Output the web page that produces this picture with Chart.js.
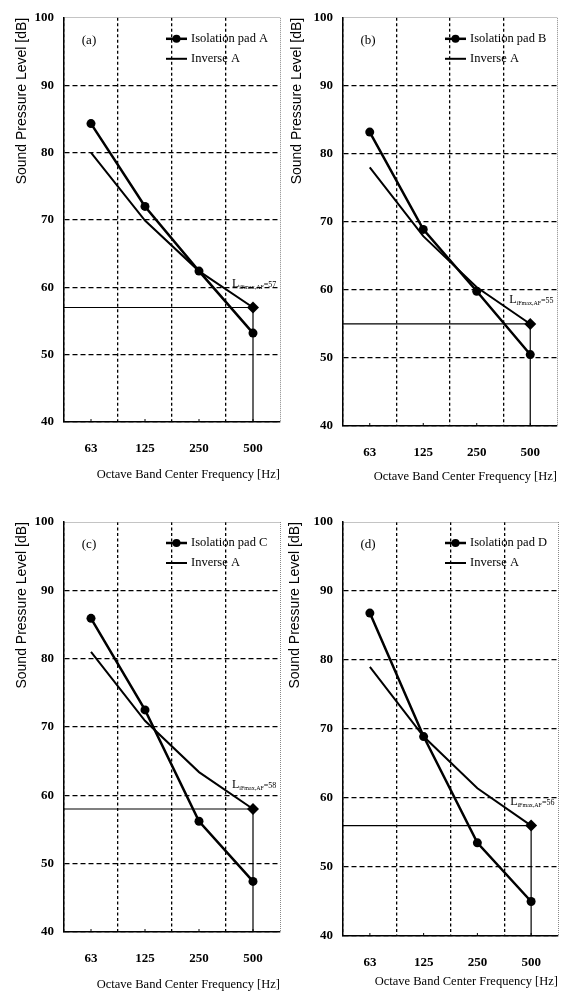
<!DOCTYPE html>
<html lang="en">
<head>
<meta charset="utf-8"/>
<title>Sound Pressure Level - Isolation Pads</title>
<script src="https://cdn.jsdelivr.net/npm/chart.js"></script>
<style>
  body { margin: 0; background: #fff; width: 572px; height: 993px; position: relative; overflow: hidden; }
  .panel { position: absolute; }
</style>
</head>
<body>
<div class="panel" style="left:0;top:0;width:286px;height:496px"><canvas id="chartA"></canvas></div>
<div class="panel" style="left:279px;top:0;width:286px;height:496px"><canvas id="chartB"></canvas></div>
<div class="panel" style="left:0;top:500px;width:286px;height:493px"><canvas id="chartC"></canvas></div>
<div class="panel" style="left:279px;top:500px;width:286px;height:493px"><canvas id="chartD"></canvas></div>
<script>
// octave band centre frequencies
const freqLabels = ['63', '125', '250', '500'];

// measured levels for each isolation pad [dB]
const padA = [84.3, 72.0, 62.4, 53.2];
const padB = [83.2, 68.9, 59.8, 50.5];
const padC = [85.9, 72.5, 56.2, 47.4];
const padD = [86.8, 68.9, 53.5, 45.0];

// inverse A-weighting curves fitted to each pad
const inverseA_a = [80.0, 69.9, 62.4, 57.0];
const inverseA_b = [78.0, 67.9, 60.4, 55.0];
const inverseA_c = [81.0, 70.9, 63.4, 58.0];
const inverseA_d = [79.0, 68.9, 61.4, 56.0];

// single number ratings L_iFmax,AF
const ratings = [57, 55, 58, 56];

const panelTags = ['(a)', '(b)', '(c)', '(d)'];
const padNames = ['Isolation pad A', 'Isolation pad B', 'Isolation pad C', 'Isolation pad D'];

const serif = '"Liberation Serif", "Times New Roman", serif';

// draws rating line, annotation, panel tag and the in-plot legend
const decoPlugin = {
  id: 'deco',
  beforeDatasetsDraw(chart, args, opts) {
    const { ctx, chartArea: a, scales: { x, y } } = chart;
    const xr = x.getPixelForValue(freqLabels.length - 1);
    const yl = y.getPixelForValue(opts.level);
    ctx.save();
    ctx.strokeStyle = '#000';
    ctx.lineWidth = 1.2;
    ctx.beginPath();
    ctx.moveTo(a.left, yl);
    ctx.lineTo(xr, yl);
    ctx.lineTo(xr, a.bottom);
    ctx.stroke();
    // small inward ticks at the band centres
    ctx.lineWidth = 1;
    freqLabels.forEach((f, i) => {
      const px = x.getPixelForValue(i);
      ctx.beginPath(); ctx.moveTo(px, a.bottom); ctx.lineTo(px, a.bottom - 3); ctx.stroke();
    });
    ctx.restore();
  },
  afterDraw(chart, args, opts) {
    const { ctx, chartArea: a, scales: { x, y } } = chart;
    ctx.save();
    ctx.fillStyle = '#000';
    ctx.strokeStyle = '#000';

    // panel tag
    ctx.font = '13px ' + serif;
    ctx.textAlign = 'center';
    ctx.textBaseline = 'middle';
    ctx.fillText(opts.tag, a.left + 25, a.top + 23);

    // legend
    const lx = a.left + 102;
    const ly1 = a.top + 21, ly2 = a.top + 41;
    ctx.lineWidth = 2.5;
    ctx.beginPath(); ctx.moveTo(lx, ly1); ctx.lineTo(lx + 21, ly1); ctx.stroke();
    ctx.beginPath(); ctx.arc(lx + 10.5, ly1, 4, 0, Math.PI * 2); ctx.fill();
    ctx.lineWidth = 2;
    ctx.beginPath(); ctx.moveTo(lx, ly2); ctx.lineTo(lx + 21, ly2); ctx.stroke();
    ctx.textAlign = 'left';
    ctx.font = '12.5px ' + serif;
    ctx.fillText(opts.padName, lx + 25, ly1);
    ctx.fillText('Inverse A', lx + 25, ly2);

    // rating annotation
    const xr = x.getPixelForValue(freqLabels.length - 1);
    let tx = xr - 21;
    const ty = y.getPixelForValue(opts.level + 3.6) + 4;
    ctx.textBaseline = 'alphabetic';
    ctx.font = '12px ' + serif;
    ctx.fillText('L', tx, ty);
    tx += ctx.measureText('L').width;
    ctx.font = '6px ' + serif;
    ctx.fillText('iFmax,AF', tx, ty + 2);
    tx += ctx.measureText('iFmax,AF').width;
    ctx.font = '8px ' + serif;
    ctx.fillText('=' + opts.level, tx, ty);
    ctx.restore();
  }
};

const panels = [
  { id: 'chartA', pad: padA, inv: inverseA_a, top: 11, right: 3, xh: 74, xTitlePad: 13.5, yTitlePad: 13.6 },
  { id: 'chartB', pad: padB, inv: inverseA_b, top: 12, right: 8, xh: 70, xTitlePad: 11.5, yTitlePad: 9.6 },
  { id: 'chartC', pad: padC, inv: inverseA_c, top: 22, right: 3, xh: 61, xTitlePad: 0.5, yTitlePad: 13.6 },
  { id: 'chartD', pad: padD, inv: inverseA_d, top: 22, right: 7, xh: 57, xTitlePad: 3.5, yTitlePad: 7.6 }
];

panels.forEach((p, i) => {
  new Chart(document.getElementById(p.id), {
    type: 'line',
    data: {
      labels: freqLabels,
      datasets: [
        {
          label: padNames[i],
          data: p.pad,
          borderColor: '#000',
          backgroundColor: '#000',
          borderWidth: 2.5,
          pointStyle: 'circle',
          pointRadius: 4.5,
          pointBorderWidth: 0
        },
        {
          label: 'Inverse A',
          data: p.inv,
          borderColor: '#000',
          backgroundColor: '#000',
          borderWidth: 2,
          pointStyle: 'rectRot',
          pointRadius: c => c.dataIndex === freqLabels.length - 1 ? 6 : 0,
          pointBorderWidth: 0
        }
      ]
    },
    options: {
      responsive: true,
      maintainAspectRatio: false,
      animation: false,
      layout: { padding: { top: p.top, right: p.right, left: 0, bottom: 0 } },
      plugins: {
        legend: { display: false },
        tooltip: { enabled: false },
        deco: { tag: panelTags[i], padName: padNames[i], level: ratings[i] }
      },
      scales: {
        x: {
          type: 'category',
          offset: true,
          grid: {
            offset: true,
            drawTicks: false,
            color: c => c.type === 'scale' ? '#888' : '#000',
            lineWidth: c => c.type === 'scale' ? 1 : 1.3
          },
          border: { display: true, color: '#000', width: 1.5, dash: c => c.type === 'scale' ? [1, 1] : [3, 2.5] },
          ticks: { padding: 19, color: '#000', font: { family: serif, size: 13, weight: 'bold' } },
          title: {
            display: true,
            text: 'Octave Band Center Frequency [Hz]',
            align: 'end',
            color: '#000',
            font: { family: serif, size: 12.5 },
            padding: { top: 0, bottom: p.xTitlePad }
          },
          afterFit: s => { s.height = p.xh; }
        },
        y: {
          min: 40,
          max: 100,
          grid: {
            drawTicks: false,
            color: c => c.tick && c.tick.value === 100 ? '#888' : '#000',
            lineWidth: c => c.tick && c.tick.value === 100 ? 1 : 1.3
          },
          border: { display: true, color: '#000', width: 1.5, dash: c => c.tick && c.tick.value === 100 ? [1, 1] : [5, 3] },
          ticks: { stepSize: 10, padding: 10, color: '#000', font: { family: serif, size: 13, weight: 'bold' } },
          title: {
            display: true,
            text: 'Sound Pressure Level [dB]',
            align: 'end',
            color: '#000',
            font: { family: '"Liberation Sans", Arial, sans-serif', size: 14 },
            padding: { top: p.yTitlePad, bottom: 0 }
          },
          afterFit: s => { s.width = 64; }
        }
      }
    },
    plugins: [decoPlugin]
  });
});
</script>
</body>
</html>
